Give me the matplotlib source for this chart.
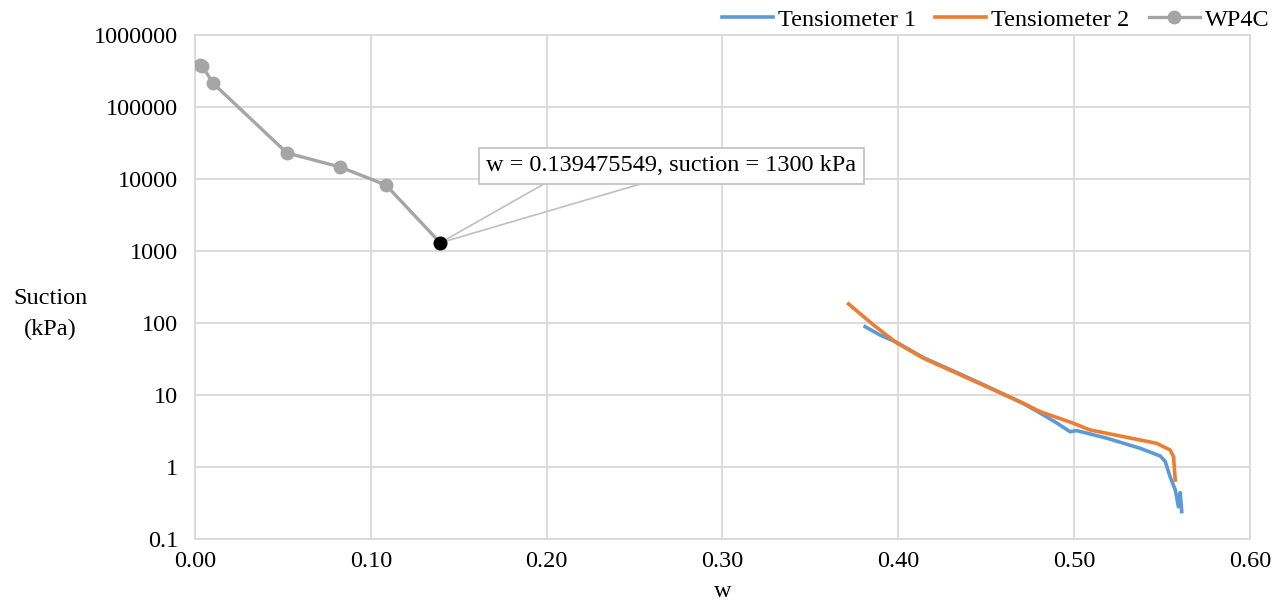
import matplotlib.pyplot as plt
from matplotlib.ticker import FixedLocator, FuncFormatter, NullLocator

# WP4C measurements (w, suction kPa)
wp4c_w = [0.003, 0.0042, 0.0102, 0.0523, 0.0825, 0.1086, 0.139475549]
wp4c_s = [380000, 372000, 215000, 23000, 14700, 8250, 1300]

# Tensiometer 1
t1_w = [0.3811, 0.3896, 0.399, 0.4143, 0.4333, 0.4522, 0.4712, 0.4807, 0.4900,
        0.4977, 0.5015, 0.5186, 0.5375, 0.549, 0.5518, 0.5546, 0.5575, 0.5593,
        0.5603, 0.5612]
t1_s = [89, 68, 54, 33, 20.5, 12.6, 7.6, 5.6, 4.1,
        3.09, 3.2, 2.51, 1.82, 1.42, 1.19, 0.73, 0.48, 0.28,
        0.44, 0.24]

# Tensiometer 2
t2_w = [0.3717, 0.3859, 0.399, 0.4143, 0.4333, 0.4522, 0.4712, 0.4807, 0.4996,
        0.509, 0.528, 0.547, 0.5546, 0.5565, 0.5575]
t2_s = [184, 94, 53, 32.4, 20, 12.4, 7.67, 5.87, 4.05,
        3.27, 2.64, 2.13, 1.72, 1.39, 0.66]

y_ticks = [0.1, 1, 10, 100, 1000, 10000, 100000, 1000000]

plt.rcParams['font.family'] = ['Liberation Serif', 'DejaVu Serif']
FS = 17.5

fig = plt.figure(figsize=(12.86, 6.06), dpi=100)
ax = fig.add_axes([0.1516, 0.1106, 0.8204, 0.8316])

ax.plot(t1_w, t1_s, color='#5b9bd5', lw=2.6, label='Tensiometer 1', zorder=3)
ax.plot(t2_w, t2_s, color='#ed7d31', lw=2.6, label='Tensiometer 2', zorder=4)
ax.plot(wp4c_w, wp4c_s, color='#a5a5a5', lw=2.4, marker='o', ms=9,
        label='WP4C', zorder=3)
ax.plot([wp4c_w[-1]], [wp4c_s[-1]], 'o', color='black', ms=9, zorder=5)

ax.set_yscale('log')
ax.set_xlim(0, 0.6)
ax.set_ylim(0.1, 1000000)
ax.yaxis.set_major_locator(FixedLocator(y_ticks))
ax.yaxis.set_minor_locator(NullLocator())
ax.yaxis.set_major_formatter(FuncFormatter(lambda v, p: f'{v:g}' if v < 1 else f'{int(round(v))}'))
ax.set_xticks([0, 0.1, 0.2, 0.3, 0.4, 0.5, 0.6])
ax.xaxis.set_major_formatter(FuncFormatter(lambda v, p: f'{v:.2f}'))
ax.tick_params(length=0, labelsize=FS)
ax.tick_params(axis='y', pad=12)
ax.tick_params(axis='x', pad=9)
ax.grid(True, color='#d9d9d9', lw=1.3)
for s in ax.spines.values():
    s.set_color('#d9d9d9')
    s.set_linewidth(1.3)
ax.set_axisbelow(True)

ax.set_xlabel('w', fontsize=FS, labelpad=6)
ax.set_ylabel('Suction\n(kPa)', fontsize=FS, rotation=0, ha='center', va='center',
              linespacing=1.6)
ax.yaxis.set_label_coords(-0.137, 0.447)

# data callout
px, py = wp4c_w[-1], wp4c_s[-1]
for dx in (104, 201):
    ax.annotate('', xy=(px, py), xytext=(dx, 59), textcoords='offset pixels',
                arrowprops=dict(arrowstyle='-', color='#bfbfbf', lw=1.2,
                                shrinkA=0, shrinkB=0), zorder=2)
ax.annotate('w = 0.139475549, suction = 1300 kPa', xy=(px, py),
            xytext=(231, 77), textcoords='offset pixels', ha='center', va='center',
            fontsize=FS,
            bbox=dict(boxstyle='square,pad=0.3', fc='white', ec='#bfbfbf', lw=1.2),
            zorder=6)

fig.legend(loc='upper right', bbox_to_anchor=(1.004, 1.022), ncol=3, frameon=False,
           fontsize=FS, handlelength=2.1, columnspacing=0.8, handletextpad=0.2)

fig.savefig('out.png', dpi=100)
